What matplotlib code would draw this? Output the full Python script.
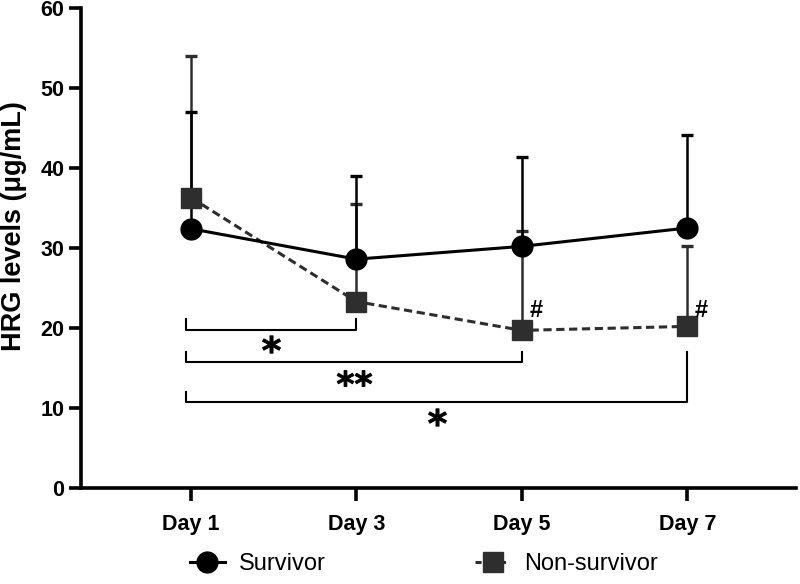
import matplotlib
matplotlib.use("Agg")
import matplotlib.pyplot as plt
from matplotlib.lines import Line2D

plt.rcParams['font.family'] = ['Liberation Sans', 'DejaVu Sans']

days = ["Day 1", "Day 3", "Day 5", "Day 7"]
survivor = [32.4, 28.6, 30.2, 32.5]
survivor_sd = [14.6, 10.4, 11.2, 11.6]
nonsurv = [36.3, 23.3, 19.7, 20.2]
nonsurv_sd = [17.7, 12.2, 12.4, 10.1]

# significance brackets: (start idx, end idx, bar y, left tick top, right tick top, label, label y)
brackets = [
    (0, 1, 19.8, 21.1, 21.1, "*", 18.0),
    (0, 2, 15.75, 17.0, 17.0, "**", 13.75),
    (0, 3, 10.75, 12.0, 17.0, "*", 8.9),
]
hash_idx = [2, 3]
hash_y = 22.2

fig = plt.figure(figsize=(8, 5.84), dpi=100)
ax = fig.add_axes([0.101, 0.1644, 0.894, 0.822])

x = list(range(len(days)))
dark = "#2e2e2e"

# error bars (upper only)
ax.errorbar(x, nonsurv, yerr=[[0]*4, nonsurv_sd], fmt='none', ecolor=dark,
            elinewidth=1.8, capsize=4.5, capthick=2.4, zorder=2)
ax.errorbar(x, survivor, yerr=[[0]*4, survivor_sd], fmt='none', ecolor='black',
            elinewidth=1.8, capsize=4.5, capthick=2.4, zorder=2)

ax.plot(x, nonsurv, color=dark, lw=2.2, ls=(0, (2.7, 1.5)), marker='s', ms=14.5,
        mfc=dark, mec=dark, zorder=3)
ax.plot(x, survivor, color='black', lw=2.2, marker='o', ms=15,
        mfc='black', mec='black', zorder=4)

for (i0, i1, yb, yl, yr, lab, ylab) in brackets:
    xl = x[i0] - 0.03
    xr = x[i1]
    ax.plot([xl, xl, xr, xr], [yl, yb, yb, yr], color='black', lw=1.5, zorder=1)
    msize = 13 if len(lab) == 1 else 25
    mt = ''.join('{' + c + '}' for c in lab)
    ax.plot([(xl + xr) / 2], [ylab], ls='none',
            marker=r'$\mathbf{' + mt + '}$', ms=msize, color='black',
            mec='black', mew=0.6)

for i in hash_idx:
    ax.text(x[i] + 0.085, hash_y, "#", ha='center', va='center', fontsize=17,
            fontweight='bold')

ax.set_xlim(-0.665, 3.656)
ax.set_ylim(0, 60)
ax.set_yticks([0, 10, 20, 30, 40, 50, 60])
ax.set_xticks(x)
ax.set_xticklabels(days)
for s in ['top', 'right']:
    ax.spines[s].set_visible(False)
for s in ['left', 'bottom']:
    ax.spines[s].set_linewidth(2.6)
ax.tick_params(axis='both', length=9, width=2.6, direction='out', labelsize=15.5)
ax.tick_params(axis='x', pad=10)
ax.tick_params(axis='y', pad=3)
for lbl in ax.get_xticklabels() + ax.get_yticklabels():
    lbl.set_fontweight('bold')
ax.set_ylabel("HRG levels (μg/mL)", fontsize=19.5, fontweight='bold')
ax.yaxis.set_label_coords(-0.0755, 0.546)

handles = [
    Line2D([], [], color='black', lw=2.2, marker='o', ms=15),
    Line2D([], [], color=dark, lw=2.2, ls=(0, (2, 2)), marker='s', ms=14.5),
]
fig.legend(handles, ["Survivor", "Non-survivor"], ncol=2, frameon=False,
           loc='center', bbox_to_anchor=(0.53, 1 - 564 / 584), fontsize=17,
           handlelength=1.5, handletextpad=0.6, columnspacing=6.3)

fig.savefig("out.png", dpi=100)
